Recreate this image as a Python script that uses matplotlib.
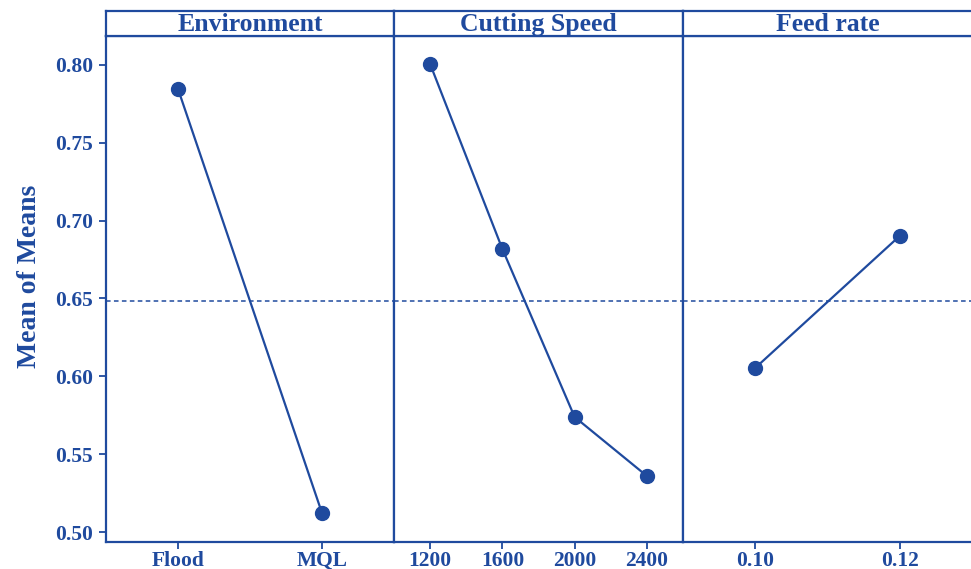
import matplotlib
matplotlib.use("Agg")
import matplotlib.pyplot as plt

# main effects for means
env_levels = ["Flood", "MQL"]
env_means = [0.7846, 0.5122]

speed_levels = ["1200", "1600", "2000", "2400"]
speed_means = [0.8006, 0.6818, 0.5739, 0.5360]

feed_levels = ["0.10", "0.12"]
feed_means = [0.6054, 0.6902]

factors = ["Environment", "Cutting Speed", "Feed rate"]
grand_mean = 0.6486

yticks = [0.50, 0.55, 0.60, 0.65, 0.70, 0.75, 0.80]

BLUE = "#1f4a9e"
plt.rcParams["font.family"] = ["Liberation Serif", "DejaVu Serif"]
plt.rcParams["font.weight"] = "bold"

W, H = 971, 569
fig = plt.figure(figsize=(W / 100, H / 100), dpi=100)

left_px = [106, 394, 683]
right_px = [394, 683, 972]
top_px, head_px, bottom_px = 11, 36, 542

panels = [(env_levels, env_means), (speed_levels, speed_means), (feed_levels, feed_means)]

for i, (levels, means) in enumerate(panels):
    x0 = left_px[i] / W
    w = (right_px[i] - left_px[i]) / W
    ax = fig.add_axes([x0, 1 - bottom_px / H, w, (bottom_px - head_px) / H])
    hd = fig.add_axes([x0, 1 - head_px / H, w, (head_px - top_px) / H])

    xs = list(range(len(levels)))
    ax.plot(xs, means, color=BLUE, lw=1.6, marker="o", ms=10, zorder=3)
    ax.axhline(grand_mean, color=BLUE, lw=1.1, ls=(0, (3, 2.2)), zorder=1)
    ax.set_xlim(-0.5, len(levels) - 0.5)
    ax.set_ylim(0.4936, 0.8186)
    ax.set_xticks(xs)
    ax.set_xticklabels(levels)
    ax.set_yticks(yticks)
    if i == 0:
        ax.set_yticklabels([f"{v:.2f}" for v in yticks])
        ax.tick_params(axis="y", length=5, width=1.3, colors=BLUE, labelsize=15.5, pad=4.5)
    else:
        ax.tick_params(axis="y", left=False, labelleft=False)
    ax.tick_params(axis="x", length=5, width=1.3, colors=BLUE, labelsize=15.5, pad=1.5)
    for lab in ax.get_xticklabels() + ax.get_yticklabels():
        lab.set_fontweight("bold")
        lab.set_color(BLUE)
    for sp in ax.spines.values():
        sp.set_color(BLUE)
        sp.set_linewidth(1.6)

    hd.set_xticks([])
    hd.set_yticks([])
    for sp in hd.spines.values():
        sp.set_color(BLUE)
        sp.set_linewidth(1.6)
    hd.text(0.5, 0.45, factors[i], transform=hd.transAxes, ha="center", va="center",
            color=BLUE, fontsize=18.5, fontweight="bold")

fig.text(30 / W, 1 - 276 / H, "Mean of Means", rotation=90, ha="center", va="center",
         color=BLUE, fontsize=20, fontweight="bold")

fig.savefig("out.png", dpi=100, facecolor="white")
